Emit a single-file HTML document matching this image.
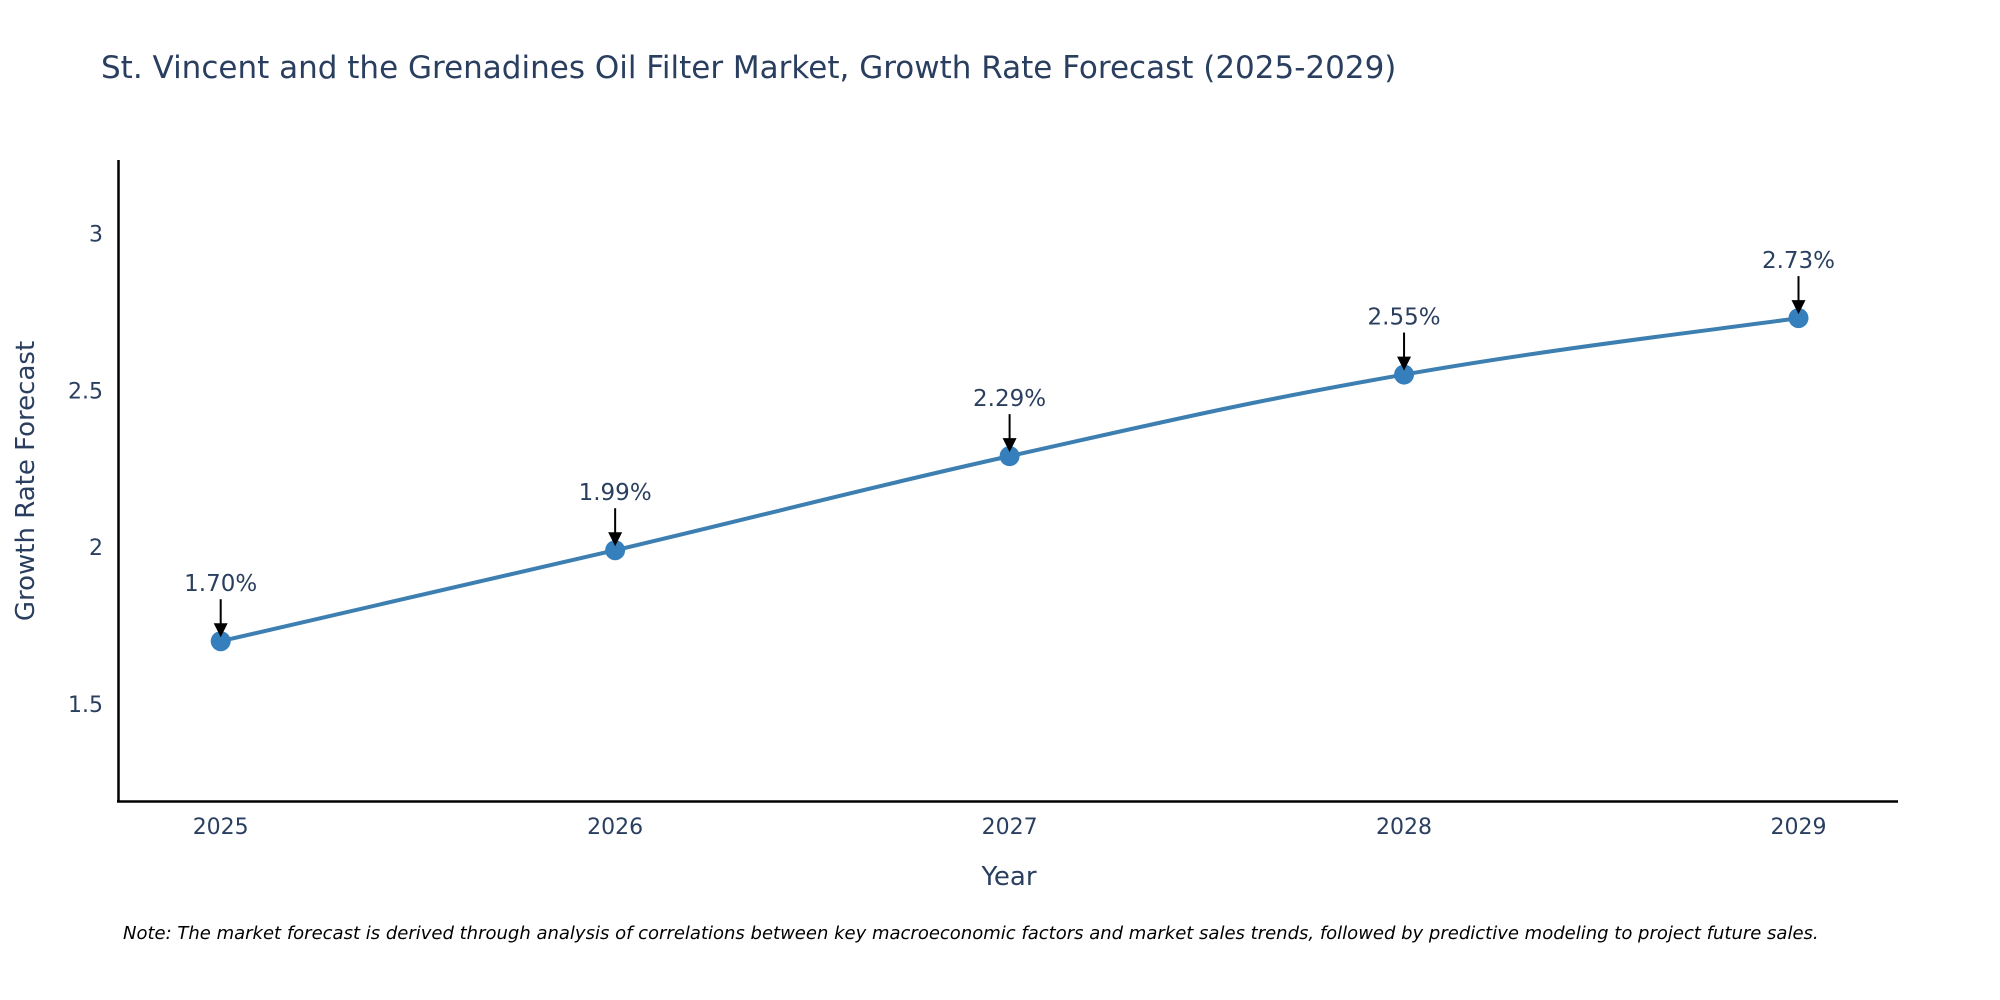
<!DOCTYPE html>
<html><head><meta charset="utf-8"><style>
body{margin:0;background:#fff;overflow:hidden;}
svg{display:block;font-family:"DejaVu Sans","Liberation Sans",sans-serif;}
</style></head><body>
<svg id="chart" width="2000" height="1000" viewBox="0 0 2000 1000">
<text x="101" y="78" font-size="31" fill="#2a3f5f">St. Vincent and the Grenadines Oil Filter Market, Growth Rate Forecast (2025-2029)</text>
<g id="yticks"></g>
<g id="xticks"></g>
<line x1="118.5" y1="160" x2="118.5" y2="802" stroke="#000" stroke-width="2.5"/>
<line x1="117" y1="801.5" x2="1898" y2="801.5" stroke="#000" stroke-width="2.5"/>
<text transform="translate(34,481) rotate(-90)" text-anchor="middle" font-size="26" fill="#2a3f5f">Growth Rate Forecast</text>
<text x="1009" y="885" text-anchor="middle" font-size="26" fill="#2a3f5f">Year</text>
<g id="series"></g>
<text x="123" y="939" font-size="18" font-style="italic" fill="#000">Note: The market forecast is derived through analysis of correlations between key macroeconomic factors and market sales trends, followed by predictive modeling to project future sales.</text>
</svg>
<script>
const years = [2025, 2026, 2027, 2028, 2029];
const growth = [1.70, 1.99, 2.29, 2.55, 2.73];
const labels = ["1.70%", "1.99%", "2.29%", "2.55%", "2.73%"];
const yTicks = [1.5, 2, 2.5, 3];
const yTickLabels = ["1.5", "2", "2.5", "3"];

const NS = "http://www.w3.org/2000/svg";
const X0 = 220.7, XPER = 394.45;
const yRef = 3, yRefPx = 233.4, YPER = 313.7;
function xs(v){ return X0 + (v - years[0]) * XPER; }
function ys(v){ return yRefPx - (v - yRef) * YPER; }
function mk(tag, attrs, parent){ const e = document.createElementNS(NS, tag); for (const k in attrs) e.setAttribute(k, attrs[k]); parent.appendChild(e); return e; }

const yt = document.getElementById('yticks');
yTicks.forEach((t, i) => {
  const e = mk('text', {x: 103, y: ys(t) + 8, 'text-anchor': 'end', 'font-size': 22, fill: '#2a3f5f'}, yt);
  
  
  e.textContent = yTickLabels[i];
});
const xt = document.getElementById('xticks');
years.forEach(yr => {
  const e = mk('text', {x: xs(yr), y: 834, 'text-anchor': 'middle', 'font-size': 22, fill: '#2a3f5f'}, xt);
  
  
  e.textContent = String(yr);
});

const g = document.getElementById('series');
const pts = years.map((yr, i) => [xs(yr), ys(growth[i])]);
let d = `M${pts[0][0]},${pts[0][1]}`;
const s = 0.2;
for (let i = 0; i < pts.length - 1; i++) {
  const p0 = pts[Math.max(0, i - 1)], p1 = pts[i], p2 = pts[i + 1], p3 = pts[Math.min(pts.length - 1, i + 2)];
  const c1 = [p1[0] + (p2[0] - p0[0]) * s, p1[1] + (p2[1] - p0[1]) * s];
  const c2 = [p2[0] - (p3[0] - p1[0]) * s, p2[1] - (p3[1] - p1[1]) * s];
  d += ` C${c1[0]},${c1[1]} ${c2[0]},${c2[1]} ${p2[0]},${p2[1]}`;
}
const line = mk('path', {d: d, fill: 'none', stroke: '#3d7fb1', 'stroke-width': 4}, g);



pts.forEach((p, i) => {
  const c = mk('circle', {cx: p[0], cy: p[1], r: 10, fill: '#357fbd'}, g);
  
  
  const a = mk('line', {x1: p[0], y1: p[1] - 42, x2: p[0], y2: p[1] - 16, stroke: '#000', 'stroke-width': 2}, g);
  
  
  const h = mk('polygon', {points: `${p[0]-7},${p[1]-18} ${p[0]+7},${p[1]-18} ${p[0]},${p[1]-4}`, fill: '#000'}, g);
  
  
  const t = mk('text', {x: p[0], y: p[1] - 50, 'text-anchor': 'middle', 'font-size': 23, fill: '#2a3f5f'}, g);
  
  
  t.textContent = labels[i];
});
</script>
</body></html>
